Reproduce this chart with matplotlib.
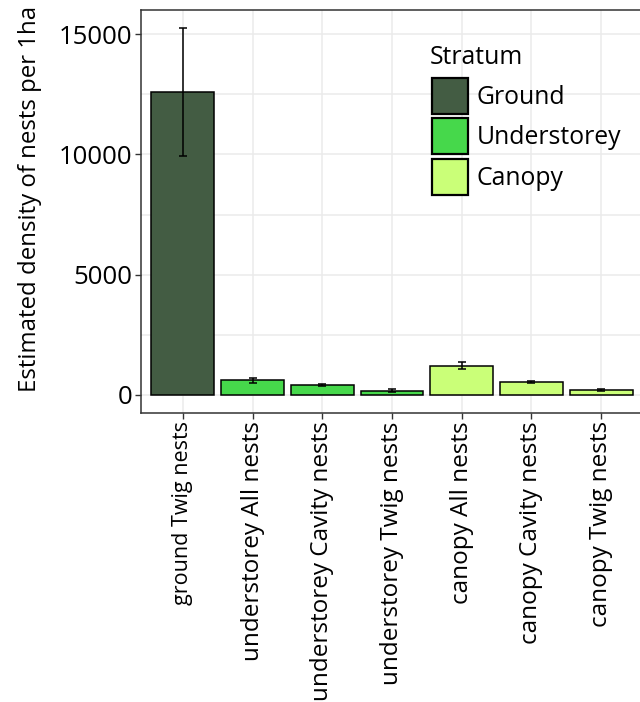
import matplotlib
matplotlib.use("Agg")
import matplotlib.pyplot as plt
from matplotlib.patches import Rectangle
from matplotlib.ticker import MultipleLocator

plt.rcParams['font.family'] = ['Open Sans', 'DejaVu Sans']

# Estimated nest densities (per 1 ha) with standard errors
categories = ["ground Twig nests", "understorey All nests", "understorey Cavity nests",
              "understorey Twig nests", "canopy All nests", "canopy Cavity nests",
              "canopy Twig nests"]
strata = ["Ground", "Understorey", "Understorey", "Understorey", "Canopy", "Canopy", "Canopy"]
density = [12600, 610, 415, 180, 1220, 555, 210]
std_err = [2650, 95, 40, 50, 150, 40, 45]

stratum_order = ["Ground", "Understorey", "Canopy"]
stratum_colors = {"Ground": "#435c43", "Understorey": "#46d84b", "Canopy": "#caff78"}

W, H, DPI = 640, 702, 100
fig = plt.figure(figsize=(W / DPI, H / DPI), dpi=DPI)
left, right, top, bottom = 141, 643, 10, 413
ax = fig.add_axes([left / W, 1 - bottom / H, (right - left) / W, (bottom - top) / H])

x = list(range(len(categories)))
ax.bar(x, density, width=0.9, color=[stratum_colors[s] for s in strata],
       edgecolor="black", linewidth=1.1, zorder=3)
ax.errorbar(x, density, yerr=std_err, fmt="none", ecolor="black",
            elinewidth=1.1, capsize=3, capthick=1.1, zorder=4)

ax.set_xlim(-0.6, len(categories) - 0.4)
ax.set_ylim(-750, 16000)
ax.yaxis.set_major_locator(MultipleLocator(5000))
ax.yaxis.set_minor_locator(MultipleLocator(2500))
ax.set_xticks(x)
ax.set_xticklabels(categories, rotation=90, fontsize=17.5, va="top")
ax.get_xticklabels()[0].set_fontsize(15.5)
ax.tick_params(axis="y", labelsize=18.5)

ax.grid(True, which="major", color="#ebebeb", linewidth=1.1, zorder=0)
ax.grid(True, which="minor", axis="y", color="#ebebeb", linewidth=1.1, zorder=0)
ax.set_axisbelow(True)
ax.tick_params(which="major", length=4, width=1, color="#333333", pad=2, labelcolor="black")
ax.tick_params(which="minor", length=0)
for sp in ax.spines.values():
    sp.set_color("#333333")
    sp.set_linewidth(1.1)

ax.set_ylabel("Estimated density of nests per 1ha", fontsize=17.3)
ax.yaxis.set_label_coords((42 - left) / (right - left), (bottom - 199) / (bottom - top))

# Stratum legend drawn in figure pixel coordinates (origin top-left)
def fig_xy(px, py):
    return px / W, 1 - py / H

fig.text(*fig_xy(430, 64), "Stratum", fontsize=17.8, va="baseline", ha="left")
key_x, key_size = 432, 36
key_tops = [78, 118, 159]
for s, ky in zip(stratum_order, key_tops):
    fx, fy = fig_xy(key_x, ky + key_size)
    fig.patches.append(Rectangle((fx, fy), key_size / W, key_size / H,
                                 transform=fig.transFigure, facecolor=stratum_colors[s],
                                 edgecolor="black", linewidth=1.6, zorder=5))
    fig.text(*fig_xy(477, ky + key_size - 10), s, fontsize=17.8, va="baseline", ha="left")

fig.savefig("out.png", dpi=DPI)
